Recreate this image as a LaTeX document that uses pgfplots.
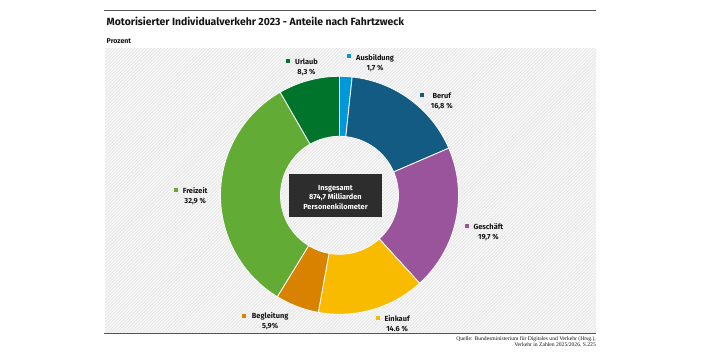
\documentclass[border=0pt]{standalone}
\usepackage{fontspec}
\setmainfont{Fira Sans}
\newfontfamily\srcfont{Liberation Serif}
\usepackage{pgfplots}
\usepackage{pgfplotstable}
\pgfplotsset{compat=1.18}
\usetikzlibrary{patterns.meta}

\definecolor{cAusb}{HTML}{0098D8}
\definecolor{cBeruf}{HTML}{135B82}
\definecolor{cGesch}{HTML}{9A549B}
\definecolor{cEink}{HTML}{F9BB00}
\definecolor{cBegl}{HTML}{D88200}
\definecolor{cFrei}{HTML}{62AC36}
\definecolor{cUrl}{HTML}{00742B}
\definecolor{cBox}{HTML}{2D2D2D}
\definecolor{cRule}{HTML}{555555}
\definecolor{cPanel}{HTML}{E9E9E9}
\definecolor{cText}{HTML}{141414}

% Shares of passenger-km by trip purpose (percent), clockwise from 12 o'clock
\pgfplotstableread[col sep=comma]{
name,value,col
Ausbildung,1.7,cAusb
Beruf,16.8,cBeruf
Geschaeft,19.7,cGesch
Einkauf,14.6,cEink
Begleitung,5.9,cBegl
Freizeit,32.9,cFrei
Urlaub,8.3,cUrl
}\shares

\def\cx{339.5}
\def\cy{195.3}
\def\Rout{119}
\def\Rin{59}

\newcommand\labfont{\bfseries\fontsize{7.4}{8}\selectfont}
% label: square x, square y, text x, baseline, name, value, colour
\newcommand\seglabel[7]{%
  \fill[#7] (axis cs:#1-1.9,#2-1.9) rectangle (axis cs:#1+1.9,#2+1.9);
  \node[anchor=base west, inner sep=0pt, font=\labfont, text=cText] (lab#5) at (axis cs:#3,#4) {#5};
  \node[anchor=base, inner sep=0pt, font=\labfont, text=cText] at ([yshift=-10.3pt]lab#5.base) {#6};
}

\begin{document}
\begin{tikzpicture}
\begin{axis}[
  width=707pt, height=354pt, scale only axis,
  xmin=0, xmax=707, ymin=0, ymax=354, y dir=reverse,
  hide axis, clip=false,
]
\fill[white] (axis cs:0,0) rectangle (axis cs:707,354);
% hatched panel
\fill[cPanel] (axis cs:104.5,47.7) rectangle (axis cs:596,332.5);
\fill[pattern={Lines[angle=45,distance=2.3pt,line width=0.7pt]}, pattern color=white]
  (axis cs:104.5,47.7) rectangle (axis cs:596,332.5);
% rules
\draw[cRule, line width=1.3pt] (axis cs:104,10.7) -- (axis cs:596,10.7);
\draw[cRule, line width=1.3pt] (axis cs:104,333.3) -- (axis cs:596,333.3);

% title
\node[anchor=base west, inner sep=0pt, font=\bfseries\fontsize{10.4}{12}\selectfont, text=cText]
  at (axis cs:106.5,25) {Motorisierter Individualverkehr 2023 - Anteile nach Fahrtzweck};
\node[anchor=base west, inner sep=0pt, font=\bfseries\fontsize{7}{8}\selectfont, text=cText]
  at (axis cs:106.5,43.3) {Prozent};

% donut ring
\pgfplotstablegetrowsof{\shares}
\pgfmathtruncatemacro\lastrow{\pgfplotsretval-1}
\def\total{0}
\pgfplotsforeachungrouped \i in {0,...,\lastrow}{%
  \pgfplotstablegetelem{\i}{value}\of\shares
  \pgfmathsetmacro\total{\total+\pgfplotsretval}%
}
\def\cum{0}
\pgfplotsforeachungrouped \i in {0,...,\lastrow}{%
  \pgfplotstablegetelem{\i}{value}\of\shares \let\segval\pgfplotsretval
  \pgfplotstablegetelem{\i}{col}\of\shares \let\segcol\pgfplotsretval
  \pgfmathsetmacro\aA{90-\cum/\total*360}%
  \pgfmathsetmacro\cum{\cum+\segval}%
  \pgfmathsetmacro\aB{90-\cum/\total*360}%
  \pgfmathsetmacro\aBin{\aB+180}%
  \pgfmathsetmacro\Rd{\Rout-\Rin}%
  \edef\doit{\noexpand\fill[\segcol, draw=white, line width=0.8pt, line join=round]
    (axis cs:\cx,\cy) ++(\aA:\Rout pt) arc[start angle=\aA, end angle=\aB, radius=\Rout pt]
    -- ++(\aBin:\Rd pt) arc[start angle=\aB, end angle=\aA, radius=\Rin pt] -- cycle;}%
  \doit
}

% centre box
\fill[cBox] (axis cs:289.3,174.3) rectangle (axis cs:381.7,217.3);
\begin{scope}[every node/.style={anchor=base, inner sep=0pt, text=white, font=\labfont}]
\node at (axis cs:335.5,190) {Insgesamt};
\node at (axis cs:335.5,199.5) {874,7 Milliarden};
\node at (axis cs:335.5,209) {Personenkilometer};
\end{scope}

% segment labels
\seglabel{287.7}{60.7}{295}{64}{Urlaub}{8,3 \%}{cUrl}
\seglabel{349}{56}{356}{60}{Ausbildung}{1,7 \%}{cAusb}
\seglabel{422.3}{95}{432.3}{98.5}{Beruf}{16,8 \%}{cBeruf}
\seglabel{466.7}{226}{473.3}{229}{Geschäft}{19,7 \%}{cGesch}
\seglabel{378.3}{317.7}{384.3}{321}{Einkauf}{14.6 \%}{cEink}
\seglabel{244.3}{315.7}{251.7}{318.5}{Begleitung}{5,9\%}{cBegl}
\seglabel{176}{190}{182.7}{193.3}{Freizeit}{32,9 \%}{cFrei}

% source
\begin{scope}[every node/.style={anchor=base east, inner sep=0pt, text=cText, font=\srcfont\fontsize{5.6}{6}\selectfont}]
\node at (axis cs:596,340.3) {Quelle: Bundesministerium für Digitales und Verkehr (Hrsg.),};
\node at (axis cs:596,346.6) {Verkehr in Zahlen 2025/2026, S.225};
\end{scope}
\end{axis}
\end{tikzpicture}
\end{document}
